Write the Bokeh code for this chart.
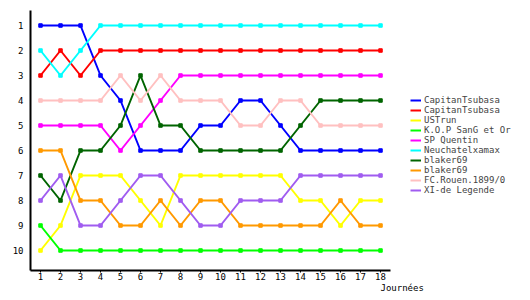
from bokeh.plotting import figure
from bokeh.models import Legend, LegendItem, Title, FixedTicker, Range1d
from bokeh.embed import file_html
from bokeh.resources import INLINE

days = list(range(1, 19))
teams = ["CapitanTsubasa", "CapitanTsubasa", "USTrun", "K.O.P SanG et Or", "SP Quentin",
         "Neuchatelxamax", "blaker69", "blaker69", "FC.Rouen.1899/0", "XI-de Legende"]
colors = ["#0000ff", "#ff0000", "#ffff00", "#00ff00", "#ff00ff",
          "#00ffff", "#006400", "#ff9900", "#ffc0c0", "#a05cf0"]

capitan1 = [1, 1, 1, 3, 4, 6, 6, 6, 5, 5, 4, 4, 5, 6, 6, 6, 6, 6]
capitan2 = [3, 2, 3, 2, 2, 2, 2, 2, 2, 2, 2, 2, 2, 2, 2, 2, 2, 2]
ustrun = [10, 9, 7, 7, 7, 8, 9, 7, 7, 7, 7, 7, 7, 8, 8, 9, 8, 8]
kop = [9, 10, 10, 10, 10, 10, 10, 10, 10, 10, 10, 10, 10, 10, 10, 10, 10, 10]
spquentin = [5, 5, 5, 5, 6, 5, 4, 3, 3, 3, 3, 3, 3, 3, 3, 3, 3, 3]
neuchatel = [2, 3, 2, 1, 1, 1, 1, 1, 1, 1, 1, 1, 1, 1, 1, 1, 1, 1]
blaker1 = [7, 8, 6, 6, 5, 3, 5, 5, 6, 6, 6, 6, 6, 5, 4, 4, 4, 4]
blaker2 = [6, 6, 8, 8, 9, 9, 8, 9, 8, 8, 9, 9, 9, 9, 9, 8, 9, 9]
rouen = [4, 4, 4, 4, 3, 4, 3, 4, 4, 4, 5, 5, 4, 4, 5, 5, 5, 5]
xilegende = [8, 7, 9, 9, 8, 7, 7, 8, 9, 9, 8, 8, 8, 7, 7, 7, 7, 7]

series = [capitan1, capitan2, ustrun, kop, spquentin, neuchatel, blaker1, blaker2, rouen, xilegende]
rank_ticks = list(range(1, 11))
x_title = "Journées"

FONT = "DejaVu Sans Mono"

# frame spans x 30..520 px; axis line limited to days 0.5..18.5 (30..390 px)
p = figure(width=530, height=300, output_backend="svg", toolbar_location=None,
           x_range=Range1d(0.5, 25.0), y_range=Range1d(10.8, 0.4),
           min_border_left=30, min_border_right=10, min_border_top=10, min_border_bottom=30)
p.outline_line_color = None
p.xgrid.visible = False
p.ygrid.visible = False
p.background_fill_color = "white"
p.border_fill_color = "white"

items = []
for name, vals, col in zip(teams, series, colors):
    r = p.line(days, vals, line_color=col, line_width=2)
    p.scatter(days, vals, marker="square", size=3.5, fill_color=col, line_color=col)
    items.append(LegendItem(label=name, renderers=[r]))

for ax in (p.xaxis[0], p.yaxis[0]):
    ax.axis_line_width = 2
    ax.axis_line_color = "black"
    ax.major_label_text_font = FONT
    ax.major_label_text_font_size = "9px"
    ax.major_label_text_color = "black"
    ax.minor_tick_line_color = None
    ax.major_tick_in = 0

p.xaxis[0].ticker = FixedTicker(ticks=days)
p.xaxis[0].bounds = (0.5, 18.5)
p.xaxis[0].major_tick_out = 2
p.xaxis[0].major_label_standoff = 0
p.yaxis[0].ticker = FixedTicker(ticks=rank_ticks)
p.yaxis[0].major_tick_out = 0
p.yaxis[0].major_label_standoff = 7

legend = Legend(items=items, location=(380, 75), margin=0, padding=0, spacing=0,
                glyph_width=11, glyph_height=10, label_height=10, label_standoff=3,
                label_text_font=FONT, label_text_font_size="9px",
                border_line_color=None, background_fill_alpha=0)
p.add_layout(legend, "center")

p.add_layout(Title(text=x_title, align="left", offset=350, standoff=-4,
                   text_font=FONT, text_font_size="9px", text_font_style="normal",
                   text_color="black"), "below")

open("out.html", "w").write(file_html(p, INLINE))
